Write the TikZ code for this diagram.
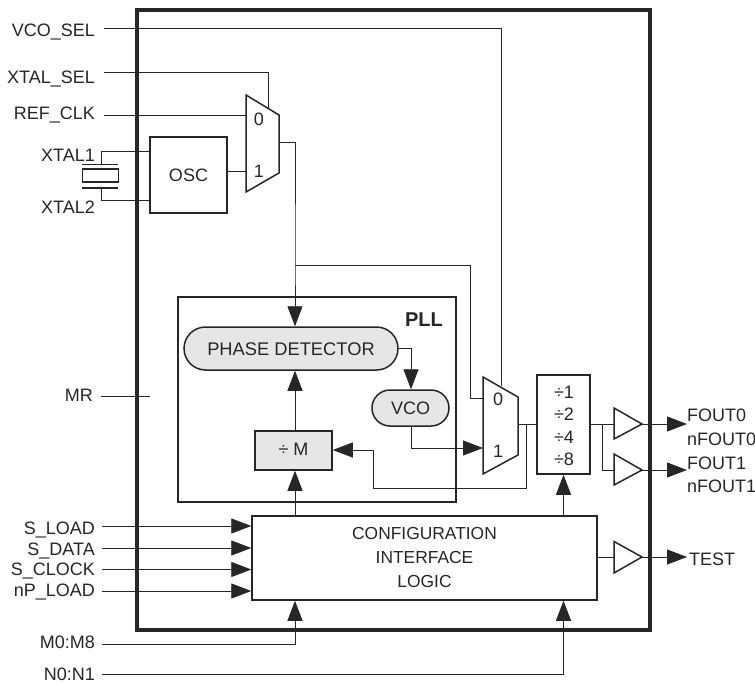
\documentclass[tikz,border=0pt]{standalone}
\usepackage{fontspec}
\setmainfont{Liberation Sans}
\usetikzlibrary{arrows.meta}
\definecolor{ink}{HTML}{262626}
\definecolor{shade}{HTML}{E6E6E6}
\tikzset{
  wire/.style={draw=ink,line width=0.9pt},
  arr/.style={wire,-{Triangle[length=20pt,width=15pt]}},
  block/.style={draw=ink,line width=1.5pt,inner sep=0pt,align=center},
  grayblock/.style={block,fill=shade},
  shape2/.style={draw=ink,line width=1.5pt,line join=miter},
  lab/.style={inner sep=0pt,text=ink,font=\fontsize{18}{24}\selectfont},
  inlab/.style={lab,anchor=base east},
  outlab/.style={lab,anchor=base west},
  ctr/.style={lab,anchor=base},
}
\begin{document}
\begin{tikzpicture}[x=1pt,y=-1pt]
\useasboundingbox (0,0) rectangle (755,685);
% outer frame
\draw[draw=ink,line width=4pt] (137,10) rectangle (650,630);
% blocks
\node[block,lab,minimum width=77pt,minimum height=76pt,text height=13pt,text depth=0pt] (osc) at (188.5,175) {OSC};
\node[block,minimum width=278pt,minimum height=205pt] (pll) at (317,399.5) {};
\node[ctr,font=\fontsize{20}{24}\selectfont\bfseries] (plltxt) at (424,326.5) {PLL};
\node[grayblock,lab,font=\fontsize{18.3}{24}\selectfont,minimum width=214pt,minimum height=43pt,rounded corners=21.5pt,text height=13pt,text depth=0pt] (pd) at (291,348.5) {PHASE DETECTOR};
\node[grayblock,lab,minimum width=77pt,minimum height=36pt,rounded corners=18pt,text height=13pt,text depth=0pt] (vco) at (410.5,408) {VCO};
\node[grayblock,lab,minimum width=77pt,minimum height=39pt,text height=13pt,text depth=4pt] (divm) at (293.5,450.5) {÷ M};
\node[block,minimum width=53pt,minimum height=99pt] (divn) at (563.5,424.5) {};
\node[ctr] (d1) at (564,398) {÷1};
\node[ctr] (d2) at (564,420.5) {÷2};
\node[ctr] (d4) at (564,443) {÷4};
\node[ctr] (d8) at (564,465.5) {÷8};
\node[block,lab,font=\fontsize{17.4}{24}\selectfont,minimum width=345pt,minimum height=84pt] (cfg) at (424.5,558) {CONFIGURATION\\INTERFACE\\LOGIC};
% muxes
\draw[shape2] (246,95) -- (279,115) -- (279,173) -- (246,192) -- cycle;
\draw[shape2] (483,377) -- (518,397) -- (518,455) -- (483,474) -- cycle;
\node[ctr] (m1z) at (259,125) {0};
\node[ctr] (m1o) at (259,177) {1};
\node[ctr] (m2z) at (498,405.5) {0};
\node[ctr] (m2o) at (498,457) {1};
% buffers
\draw[shape2] (614,408) -- (642,424) -- (614,439) -- cycle;
\draw[shape2] (614,454) -- (642,470) -- (614,485) -- cycle;
\draw[shape2] (614,541.5) -- (642,557) -- (614,573) -- cycle;
% crystal
\draw[draw=ink,line width=1.5pt] (82,164.5) -- (118,164.5);
\draw[draw=ink,line width=1.5pt] (82,188) -- (118,188);
\node[block,line width=1.8pt,minimum width=36pt,minimum height=13pt] (xtal) at (100.5,175.5) {};
% labels left
\node[inlab] (lvco) at (95,37) {VCO\_SEL};
\node[inlab] (lxsel) at (95,83) {XTAL\_SEL};
\node[inlab] (lref) at (95,119) {REF\_CLK};
\node[inlab] (lx1) at (95,161) {XTAL1};
\node[inlab] (lx2) at (95,213) {XTAL2};
\node[inlab] (lmr) at (93,401) {MR};
\node[inlab] (lsl) at (95,534) {S\_LOAD};
\node[inlab] (lsd) at (95,555) {S\_DATA};
\node[inlab] (lsc) at (95,575.5) {S\_CLOCK};
\node[inlab] (lnp) at (95,596) {nP\_LOAD};
\node[inlab] (lm) at (95,648) {M0:M8};
\node[inlab] (ln) at (95,680.5) {N0:N1};
% labels right
\node[outlab] (f0) at (687,421) {FOUT0};
\node[outlab] (nf0) at (687,445) {nFOUT0};
\node[outlab] (f1) at (687,469) {FOUT1};
\node[outlab] (nf1) at (687,492.5) {nFOUT1};
\node[outlab] (tst) at (689,565) {TEST};
% connectors: top inputs
\draw[wire] (104,28) -- (501.5,28) -- (501.5,386);
\draw[wire] (104,72) -- (268,72) -- (268,108);
\draw[wire] (104,115) -- (246,115);
\draw[wire] (osc.west |- 0,151) -- (101,151) -- (101,164.5);
\draw[wire] (osc.west |- 0,200) -- (101,200) -- (101,188);
\draw[wire] (osc.east |- 0,171) -- (246,171);
\draw[wire] (101,396) -- (150,396);
% mux1 out
\draw[arr] (279,142) -- (295,142) -- (295,265) coordinate (j1) -- (pd.north -| 295,0);
\draw[wire] (j1) -- (470,265) -- (470,398) -- (483,398);
% pll internals
\draw[arr] (pd.east) -- (411,348.5) -- (vco.north -| 411,0);
\draw[arr] (vco.south -| 411,0) -- (411,448) -- (483,448);
\draw[arr] (divm.north -| 295,0) -- (pd.south -| 295,0);
\draw[arr] (cfg.north -| 295,0) -- (divm.south -| 295,0);
\draw[arr] (526,424) -- (526,488) -- (373,488) -- (373,450) -- (divm.east |- 0,450);
% mux2 out
\draw[wire] (518,424) -- (divn.west |- 0,424);
\draw[wire] (divn.east |- 0,424) -- (614,424);
\draw[wire] (602,424) -- (602,470) -- (614,470);
\draw[arr] (cfg.north -| 563.5,0) -- (divn.south);
\draw[wire] (cfg.east |- 0,557) -- (614,557);
% outputs
\draw[arr] (642,424) -- (687,424);
\draw[arr] (642,470) -- (687,470);
\draw[arr] (642,557) -- (687,557);
% config inputs
\draw[arr] (102,526) -- (cfg.west |- 0,526);
\draw[arr] (102,548) -- (cfg.west |- 0,548);
\draw[arr] (102,569.5) -- (cfg.west |- 0,569.5);
\draw[arr] (102,591) -- (cfg.west |- 0,591);
\draw[arr] (102,644) -- (295,644) -- (cfg.south -| 295,0);
\draw[arr] (102,674) -- (563.5,674) -- (cfg.south -| 563.5,0);
\end{tikzpicture}
\end{document}
